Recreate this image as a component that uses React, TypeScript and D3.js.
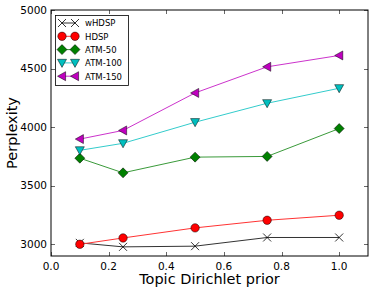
import React, { useEffect, useRef } from 'react';
import * as d3 from 'd3';

const priors = [0.1, 0.25, 0.5, 0.75, 1.0];
const wHDSP = [3012, 2978, 2984, 3058, 3058];
const HDSP = [3000, 3054, 3140, 3205, 3248];
const ATM50 = [3735, 3610, 3744, 3750, 3988];
const ATM100 = [3802, 3862, 4042, 4204, 4332];
const ATM150 = [3898, 3972, 4292, 4515, 4612];
const xTicks = [0, 0.2, 0.4, 0.6, 0.8, 1.0];
const yTicks = [3000, 3500, 4000, 4500, 5000];

const series = [
  { name: 'wHDSP', values: wHDSP, color: '#000000', line: '#333333', marker: 'x' },
  { name: 'HDSP', values: HDSP, color: '#ff0000', line: '#ff3333', marker: 'circle' },
  { name: 'ATM-50', values: ATM50, color: '#008000', line: '#3a9a3a', marker: 'diamond' },
  { name: 'ATM-100', values: ATM100, color: '#00bfbf', line: '#33cccc', marker: 'tdown' },
  { name: 'ATM-150', values: ATM150, color: '#bf00bf', line: '#cc33cc', marker: 'tleft' },
];

const W = 374, H = 292;
const m = { left: 51, right: 6, top: 10, bottom: 36 };

function drawMarker(g: any, kind: string, x: number, y: number, color: string) {
  if (kind === 'x') {
    const s = 4;
    g.append('path')
      .attr('d', `M${x - s},${y - s}L${x + s},${y + s}M${x - s},${y + s}L${x + s},${y - s}`)
      .attr('stroke', color).attr('stroke-width', 0.8).attr('fill', 'none');
  } else if (kind === 'circle') {
    g.append('circle').attr('cx', x).attr('cy', y).attr('r', 4.2)
      .attr('fill', color).attr('stroke', '#000').attr('stroke-width', 0.5);
  } else if (kind === 'diamond') {
    const s = 5;
    g.append('path').attr('d', `M${x},${y - s}L${x + s},${y}L${x},${y + s}L${x - s},${y}Z`)
      .attr('fill', color).attr('stroke', '#000').attr('stroke-width', 0.5);
  } else if (kind === 'tdown') {
    const s = 4.5;
    g.append('path').attr('d', `M${x - s},${y - s * 0.8}L${x + s},${y - s * 0.8}L${x},${y + s}Z`)
      .attr('fill', color).attr('stroke', '#000').attr('stroke-width', 0.5);
  } else if (kind === 'tleft') {
    const s = 4.5;
    g.append('path').attr('d', `M${x - s},${y}L${x + s * 0.8},${y - s}L${x + s * 0.8},${y + s}Z`)
      .attr('fill', color).attr('stroke', '#000').attr('stroke-width', 0.5);
  }
}

export default function App() {
  const ref = useRef<SVGSVGElement>(null);

  useEffect(() => {
    if (!ref.current) return;
    const svg = d3.select(ref.current);
    svg.selectAll('*').remove();

    const x = d3.scaleLinear().domain([0, 1.1]).range([m.left, W - m.right]);
    const y = d3.scaleLinear().domain([2900, 5000]).range([H - m.bottom, m.top]);
    const font = 'DejaVu Sans, sans-serif';

    const g = svg.append('g');

    // series
    const line = d3.line<number>().x((_, i) => x(priors[i])).y(d => y(d));
    series.forEach(s => {
      g.append('path').datum(s.values).attr('d', line as any)
        .attr('fill', 'none').attr('stroke', s.line).attr('stroke-width', 1);
      s.values.forEach((v, i) => drawMarker(g, s.marker, x(priors[i]), y(v), s.color));
    });

    // frame
    g.append('rect').attr('x', m.left).attr('y', m.top)
      .attr('width', W - m.right - m.left).attr('height', H - m.bottom - m.top)
      .attr('fill', 'none').attr('stroke', '#000').attr('stroke-width', 1);

    // ticks (inward, all sides)
    xTicks.forEach(t => {
      const px = Math.round(x(t)) + 0.5;
      g.append('line').attr('x1', px).attr('x2', px).attr('y1', H - m.bottom).attr('y2', H - m.bottom - 4)
        .attr('stroke', '#000').attr('stroke-width', 0.6);
      g.append('line').attr('x1', px).attr('x2', px).attr('y1', m.top).attr('y2', m.top + 4)
        .attr('stroke', '#000').attr('stroke-width', 0.6);
      g.append('text').attr('x', x(t)).attr('y', H - m.bottom + 14)
        .attr('text-anchor', 'middle').attr('font-family', font).attr('font-size', 10.5)
        .text(d3.format('.1f')(t));
    });
    yTicks.forEach(t => {
      const py = Math.round(y(t)) + 0.5;
      g.append('line').attr('x1', m.left).attr('x2', m.left + 4).attr('y1', py).attr('y2', py)
        .attr('stroke', '#000').attr('stroke-width', 0.6);
      g.append('line').attr('x1', W - m.right).attr('x2', W - m.right - 4).attr('y1', py).attr('y2', py)
        .attr('stroke', '#000').attr('stroke-width', 0.6);
      g.append('text').attr('x', m.left - 4).attr('y', y(t) + 3.7)
        .attr('text-anchor', 'end').attr('font-family', font).attr('font-size', 10.5)
        .text(t);
    });

    // axis labels
    g.append('text').attr('x', (m.left + W - m.right) / 2).attr('y', 284)
      .attr('text-anchor', 'middle').attr('font-family', font).attr('font-size', 14.5)
      .text('Topic Dirichlet prior');
    g.append('text').attr('transform', `translate(17,${(m.top + H - m.bottom) / 2}) rotate(-90)`)
      .attr('text-anchor', 'middle').attr('font-family', font).attr('font-size', 14.5)
      .text('Perplexity');

    // legend
    const lg = g.append('g');
    lg.append('rect').attr('x', 55.5).attr('y', 15.5).attr('width', 73).attr('height', 70)
      .attr('fill', '#fff').attr('stroke', '#000').attr('stroke-width', 0.8);
    series.forEach((s, i) => {
      const ly = 23 + i * 13.3;
      lg.append('line').attr('x1', 62).attr('x2', 75).attr('y1', ly).attr('y2', ly)
        .attr('stroke', s.line).attr('stroke-width', 1);
      drawMarker(lg, s.marker, 62, ly, s.color);
      drawMarker(lg, s.marker, 75, ly, s.color);
      lg.append('text').attr('x', 85).attr('y', ly + 3.3)
        .attr('font-family', font).attr('font-size', 8.5).text(s.name);
    });
  }, []);

  return (
    <svg ref={ref} width={W} height={H}
      style={{ position: 'absolute', left: 0, top: 0, background: '#fff' }} />
  );
}
